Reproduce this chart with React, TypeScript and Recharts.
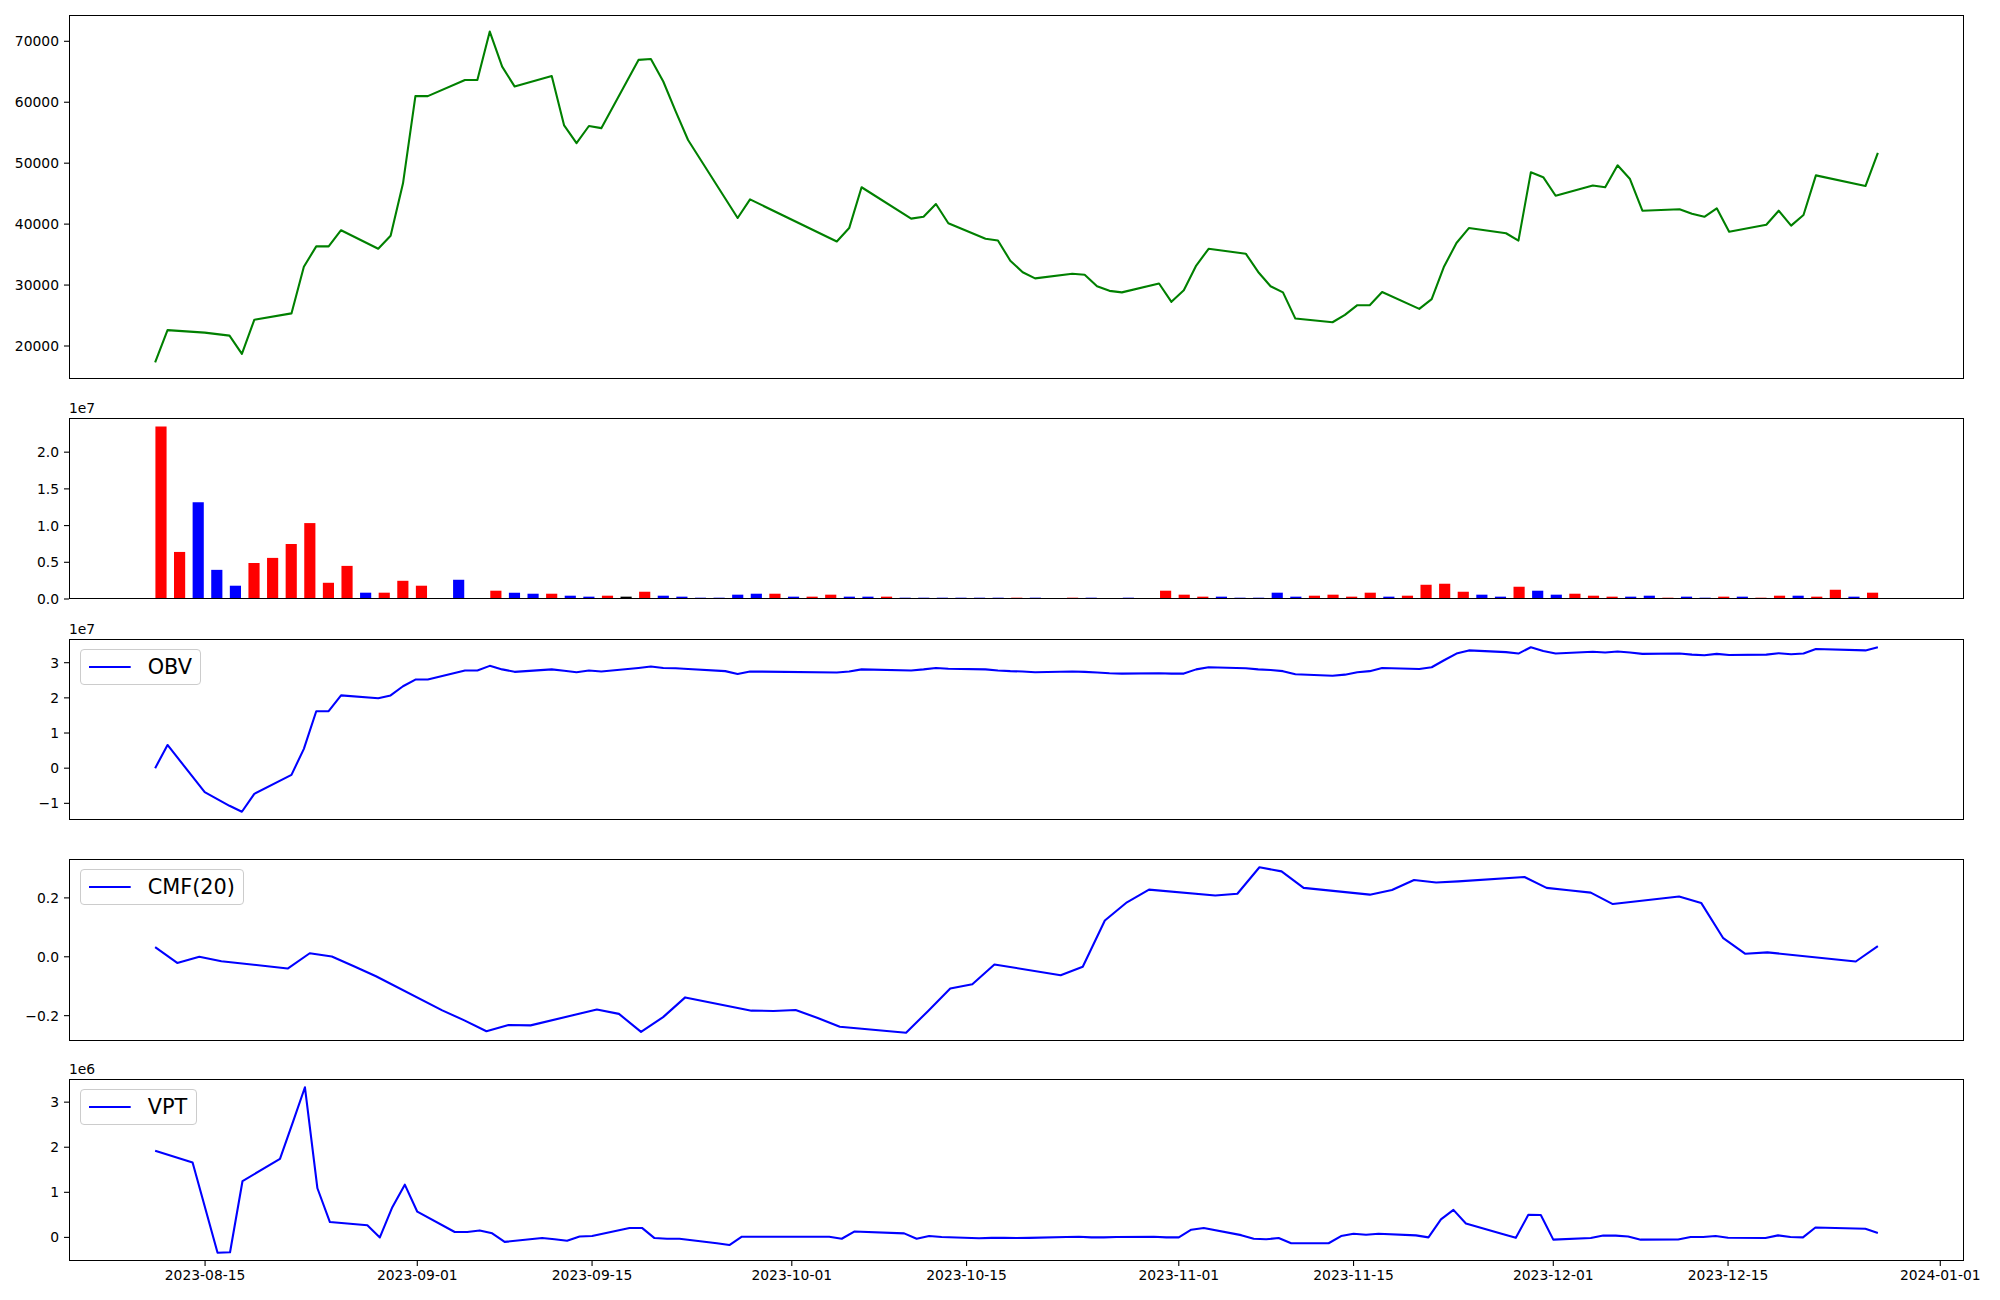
import React from 'react';
import { LineChart, Line, BarChart, Bar, Cell, XAxis, YAxis } from 'recharts';

// ---------------- data ----------------
const dates: string[] = [
  '2023-08-10', '2023-08-11', '2023-08-14', '2023-08-16', '2023-08-17', '2023-08-18', '2023-08-21', '2023-08-22', '2023-08-23', '2023-08-24',
  '2023-08-25', '2023-08-28', '2023-08-29', '2023-08-30', '2023-08-31', '2023-09-01', '2023-09-04', '2023-09-05', '2023-09-06', '2023-09-07',
  '2023-09-08', '2023-09-11', '2023-09-12', '2023-09-13', '2023-09-14', '2023-09-15', '2023-09-18', '2023-09-19', '2023-09-20', '2023-09-21',
  '2023-09-22', '2023-09-25', '2023-09-26', '2023-09-27', '2023-10-04', '2023-10-05', '2023-10-06', '2023-10-10', '2023-10-11', '2023-10-12',
  '2023-10-13', '2023-10-16', '2023-10-17', '2023-10-18', '2023-10-19', '2023-10-20', '2023-10-23', '2023-10-24', '2023-10-25', '2023-10-26',
  '2023-10-27', '2023-10-30', '2023-10-31', '2023-11-01', '2023-11-02', '2023-11-03', '2023-11-06', '2023-11-07', '2023-11-08', '2023-11-09',
  '2023-11-10', '2023-11-13', '2023-11-14', '2023-11-15', '2023-11-16', '2023-11-17', '2023-11-20', '2023-11-21', '2023-11-22', '2023-11-23',
  '2023-11-24', '2023-11-27', '2023-11-28', '2023-11-29', '2023-11-30', '2023-12-01', '2023-12-04', '2023-12-05', '2023-12-06', '2023-12-07',
  '2023-12-08', '2023-12-11', '2023-12-12', '2023-12-13', '2023-12-14', '2023-12-15', '2023-12-18', '2023-12-19', '2023-12-20', '2023-12-21',
  '2023-12-22', '2023-12-26', '2023-12-27',
];

const price: number[] = [
  17300, 22600, 22200, 21700, 18700, 24300, 25350, 33000, 36350, 36350,
  39000, 35950, 38100, 46700, 61000, 61000, 63650, 63650, 71600, 65850,
  62600, 64300, 56200, 53300, 56100, 55750, 66950, 67100, 63400, 58500,
  53800, 44200, 41000, 44050, 37150, 39350, 46050, 40900, 41200, 43300,
  40150, 37600, 37300, 34000, 32100, 31100, 31850, 31700, 29800, 29050,
  28800, 30250, 27250, 29150, 33200, 35950, 35150, 32150, 29800, 28800,
  24500, 23900, 25100, 26700, 26700, 28850, 26100, 27700, 33050, 36900,
  39350, 38500, 37300, 48500, 47700, 44650, 46350, 46050, 49650, 47400,
  42200, 42450, 41700, 41200, 42600, 38750, 39900, 42200, 39750, 41500,
  48000, 46250, 51700,
];

const volume: number[] = [
  23.48e6, 6.41e6, 13.18e6, 3.97e6, 1.81e6, 4.92e6, 5.6e6, 7.49e6, 10.34e6, 2.21e6,
  4.51e6, 0.86e6, 0.86e6, 2.48e6, 1.81e6, 0, 2.62e6, 0, 1.13e6, 0.86e6,
  0.72e6, 0.72e6, 0.45e6, 0.32e6, 0.45e6, 0.32e6, 0.99e6, 0.45e6, 0.32e6, 0.18e6,
  0.18e6, 0.59e6, 0.72e6, 0.72e6, 0.32e6, 0.32e6, 0.59e6, 0.32e6, 0.32e6, 0.32e6,
  0.18e6, 0.18e6, 0.18e6, 0.18e6, 0.18e6, 0.18e6, 0.18e6, 0.18e6, 0.05e6, 0.18e6,
  0.18e6, 0.05e6, 0.18e6, 0.05e6, 1.13e6, 0.59e6, 0.32e6, 0.32e6, 0.18e6, 0.18e6,
  0.86e6, 0.32e6, 0.45e6, 0.59e6, 0.32e6, 0.86e6, 0.32e6, 0.45e6, 1.94e6, 2.08e6,
  0.99e6, 0.59e6, 0.32e6, 1.67e6, 1.13e6, 0.59e6, 0.72e6, 0.45e6, 0.32e6, 0.32e6,
  0.45e6, 0.18e6, 0.32e6, 0.18e6, 0.32e6, 0.32e6, 0.18e6, 0.45e6, 0.45e6, 0.32e6,
  1.26e6, 0.32e6, 0.86e6,
];

// r = up day, b = down day, k = unchanged
const volumeDir: string[] = (
  'rrbbbrrrrr' + 'rbrrrkbkrb' + 'brbbrkrbbb' + 'bbbrbrrbbr' + 'bbbbbbrbbr' +
  'bbbbrrrbbb' + 'bbrrrrbrrr' + 'rbbrbbrrrb' + 'brbbrbrrbr' + 'rbr'
).split('');

const obv: number[] = [
  0, 0.66e7, -0.68e7, -1.07e7, -1.24e7, -0.73e7, -0.19e7, 0.55e7, 1.62e7, 1.62e7,
  2.07e7, 1.99e7, 2.07e7, 2.33e7, 2.52e7, 2.52e7, 2.78e7, 2.78e7, 2.91e7, 2.81e7,
  2.74e7, 2.81e7, 2.77e7, 2.73e7, 2.78e7, 2.75e7, 2.85e7, 2.89e7, 2.85e7, 2.84e7,
  2.82e7, 2.76e7, 2.68e7, 2.75e7, 2.72e7, 2.75e7, 2.81e7, 2.78e7, 2.81e7, 2.85e7,
  2.83e7, 2.81e7, 2.78e7, 2.76e7, 2.75e7, 2.73e7, 2.75e7, 2.74e7, 2.72e7, 2.70e7,
  2.69e7, 2.70e7, 2.69e7, 2.69e7, 2.81e7, 2.87e7, 2.84e7, 2.81e7, 2.79e7, 2.76e7,
  2.67e7, 2.63e7, 2.66e7, 2.73e7, 2.76e7, 2.85e7, 2.82e7, 2.87e7, 3.07e7, 3.26e7,
  3.35e7, 3.30e7, 3.26e7, 3.44e7, 3.33e7, 3.26e7, 3.31e7, 3.29e7, 3.32e7, 3.29e7,
  3.25e7, 3.26e7, 3.23e7, 3.21e7, 3.25e7, 3.22e7, 3.23e7, 3.27e7, 3.24e7, 3.26e7,
  3.39e7, 3.35e7, 3.44e7,
];

// CMF(20): defined for the last 56 trading days (from 2023-10-10)
const cmf20: number[] = [
  0.033, -0.021, 0.0, -0.015, -0.04, 0.012, 0.001, -0.032, -0.066, -0.182,
  -0.216, -0.253, -0.232, -0.233, -0.179, -0.194, -0.255, -0.205, -0.138, -0.183,
  -0.184, -0.181, -0.208, -0.238, -0.258, -0.184, -0.108, -0.093, -0.026, -0.063,
  -0.034, 0.123, 0.185, 0.228, 0.208, 0.214, 0.304, 0.29, 0.234, 0.211,
  0.227, 0.261, 0.252, 0.256, 0.271, 0.234, 0.226, 0.218, 0.179, 0.205,
  0.183, 0.063, 0.01, 0.015, -0.016, 0.036,
];

// VPT: defined from the second trading day
const vpt: number[] = [
  1.92e6, 1.66e6, -0.34e6, -0.33e6, 1.25e6, 1.74e6, 2.53e6, 3.33e6, 1.09e6, 0.34e6,
  0.27e6, 0.0, 0.67e6, 1.17e6, 0.57e6, 0.12e6, 0.12e6, 0.155e6, 0.09e6, -0.1e6,
  -0.015e6, -0.04e6, -0.075e6, 0.02e6, 0.03e6, 0.21e6, 0.21e6, -0.015e6, -0.03e6, -0.03e6,
  -0.13e6, -0.17e6, 0.015e6, 0.015e6, -0.03e6, 0.13e6, 0.09e6, -0.03e6, 0.03e6, 0.007e6,
  -0.02e6, -0.01e6, -0.01e6, -0.015e6, -0.01e6, 0.007e6, 0.015e6, 0.0, 0.0, 0.007e6,
  0.015e6, 0.0, 0.0, 0.17e6, 0.21e6, 0.05e6, -0.03e6, -0.04e6, -0.015e6, -0.13e6,
  -0.13e6, 0.03e6, 0.08e6, 0.06e6, 0.08e6, 0.045e6, 0.0, 0.4e6, 0.61e6, 0.31e6,
  0.07e6, -0.01e6, 0.5e6, 0.495e6, -0.05e6, -0.015e6, 0.04e6, 0.04e6, 0.02e6, -0.05e6,
  -0.045e6, 0.007e6, 0.007e6, 0.03e6, -0.007e6, -0.015e6, 0.045e6, 0.007e6, 0.0, 0.22e6,
  0.19e6, 0.1e6,
];

const priceTicks = [20000, 30000, 40000, 50000, 60000, 70000];
const volumeTicks = [0, 0.5e7, 1.0e7, 1.5e7, 2.0e7];
const obvTicks = [-1e7, 0, 1e7, 2e7, 3e7];
const cmfTicks = [-0.2, 0, 0.2];
const vptTicks = [0, 1e6, 2e6, 3e6];
const dateTicks = [
  '2023-08-15', '2023-09-01', '2023-09-15', '2023-10-01', '2023-10-15',
  '2023-11-01', '2023-11-15', '2023-12-01', '2023-12-15', '2024-01-01',
];

// ---------------- helpers ----------------
const DAY = 86400000;
const toDay = (s: string) => {
  const [y, m, d] = s.split('-').map(Number);
  return Date.UTC(y, m - 1, d) / DAY;
};
const fromDay = (n: number) => new Date(Math.round(n) * DAY).toISOString().slice(0, 10);
const padRange = (lo: number, hi: number, f = 0.05): [number, number] => {
  const r = hi - lo;
  return [lo - f * r, hi + f * r];
};
const minus = (s: string) => s.replace('-', '\u2212');

const PLOT_L = 69;
const PLOT_R = 1964;
const PLOT_W = PLOT_R - PLOT_L;
const YAXIS_W = 60;
const FONT = "'DejaVu Sans', sans-serif";
const TICK_FS = 13.89;
const LEGEND_FS = 20.83;
const LINE_W = 2.08;
const PAD_T = 10;
const BAR_WIDTH_UNITS = 0.6;
const DIR_COLORS: Record<string, string> = { r: '#ff0000', b: '#0000ff', k: '#000000' };

const tickStyle = { fill: '#000', fontSize: TICK_FS, fontFamily: FONT };
const tickLine = { stroke: '#000', strokeWidth: 1.1 };

const Frame = ({ top, h }: { top: number; h: number }) => (
  <div
    style={{
      position: 'absolute', left: PLOT_L, top, width: PLOT_W, height: h,
      border: '1px solid #000', boxSizing: 'border-box', pointerEvents: 'none',
    }}
  />
);

const OffsetText = ({ top, text }: { top: number; text: string }) => (
  <div
    style={{
      position: 'absolute', left: PLOT_L, top: top - 18, fontFamily: FONT,
      fontSize: TICK_FS, color: '#000', whiteSpace: 'nowrap',
    }}
  >
    {text}
  </div>
);

const LegendBox = ({ top, label, color }: { top: number; label: string; color: string }) => (
  <div
    style={{
      position: 'absolute', left: PLOT_L + 11, top: top + 10.4, height: 36,
      boxSizing: 'border-box', border: '1px solid #cccccc', borderRadius: 4,
      background: 'rgba(255,255,255,0.8)', display: 'flex', alignItems: 'center',
      padding: '0 8.3px', fontFamily: FONT, fontSize: LEGEND_FS, color: '#000',
    }}
  >
    <svg width={41.7} height={10} style={{ display: 'block' }}>
      <line x1={0} x2={41.7} y1={5} y2={5} stroke={color} strokeWidth={LINE_W} />
    </svg>
    <span style={{ marginLeft: 16.7, lineHeight: 1, whiteSpace: 'nowrap' }}>{label}</span>
  </div>
);

type Pt = { t: number; v: number };

interface LinePanelProps {
  top: number;
  h: number;
  data: Pt[];
  yTicks: number[];
  yFmt: (v: number) => string;
  color: string;
  legend?: string;
  offsetText?: string;
  showX?: boolean;
}

const LinePanel = ({ top, h, data, yTicks, yFmt, color, legend, offsetText, showX }: LinePanelProps) => {
  const ts = data.map((d) => d.t);
  const vs = data.map((d) => d.v);
  const xDomain = padRange(Math.min(...ts), Math.max(...ts));
  const yDomain = padRange(Math.min(...vs), Math.max(...vs));
  const xAxisH = showX ? 30 : 0;
  const padB = showX ? 9 : 10;
  const height = PAD_T + h + xAxisH + padB;
  return (
    <>
      <div style={{ position: 'absolute', left: 0, top: top - PAD_T }}>
        <LineChart
          width={2000}
          height={height}
          data={data}
          margin={{ top: PAD_T, right: 2000 - PLOT_R, bottom: padB, left: PLOT_L - YAXIS_W }}
        >
          <XAxis
            type="number"
            dataKey="t"
            domain={xDomain}
            allowDataOverflow
            hide={!showX}
            height={xAxisH || 30}
            ticks={dateTicks.map(toDay)}
            tickFormatter={fromDay}
            interval={0}
            tick={tickStyle}
            tickLine={tickLine}
            axisLine={false}
            tickSize={5}
            tickMargin={4}
          />
          <YAxis
            type="number"
            domain={yDomain}
            allowDataOverflow
            width={YAXIS_W}
            ticks={yTicks}
            tickFormatter={yFmt}
            interval={0}
            tick={tickStyle}
            tickLine={tickLine}
            axisLine={false}
            tickSize={5}
            tickMargin={5}
          />
          <Line
            type="linear"
            dataKey="v"
            name={legend}
            stroke={color}
            strokeWidth={LINE_W}
            strokeLinejoin="round"
            dot={false}
            activeDot={false}
            isAnimationActive={false}
          />
        </LineChart>
      </div>
      <Frame top={top} h={h} />
      {legend ? <LegendBox top={top} label={legend} color={color} /> : null}
      {offsetText ? <OffsetText top={top} text={offsetText} /> : null}
    </>
  );
};

const VolumePanel = ({ top, h }: { top: number; h: number }) => {
  const data = volume.map((v, i) => ({ i, v, dir: volumeDir[i] }));
  const xDomain = padRange(-BAR_WIDTH_UNITS / 2, volume.length - 1 + BAR_WIDTH_UNITS / 2);
  const yDomain: [number, number] = [0, Math.max(...volume) * 1.05];
  const barPx = (BAR_WIDTH_UNITS * PLOT_W) / (xDomain[1] - xDomain[0]);
  return (
    <>
      <div style={{ position: 'absolute', left: 0, top: top - PAD_T }}>
        <BarChart
          width={2000}
          height={PAD_T + h + 10}
          data={data}
          margin={{ top: PAD_T, right: 2000 - PLOT_R, bottom: 10, left: PLOT_L - YAXIS_W }}
        >
          <XAxis type="number" dataKey="i" domain={xDomain} allowDataOverflow hide />
          <YAxis
            type="number"
            domain={yDomain}
            allowDataOverflow
            width={YAXIS_W}
            ticks={volumeTicks}
            tickFormatter={(v: number) => (v / 1e7).toFixed(1)}
            interval={0}
            tick={tickStyle}
            tickLine={tickLine}
            axisLine={false}
            tickSize={5}
            tickMargin={5}
          />
          <Bar dataKey="v" barSize={barPx} isAnimationActive={false}>
            {data.map((d, i) => (
              <Cell key={i} fill={DIR_COLORS[d.dir]} />
            ))}
          </Bar>
        </BarChart>
      </div>
      <Frame top={top} h={h} />
      <OffsetText top={top} text="1e7" />
    </>
  );
};

export default function App() {
  const dayNums = dates.map(toDay);
  const priceData = price.map((v, i) => ({ t: dayNums[i], v }));
  const obvData = obv.map((v, i) => ({ t: dayNums[i], v }));
  const cmfStart = dates.length - cmf20.length;
  const cmfData = cmf20.map((v, i) => ({ t: dayNums[cmfStart + i], v }));
  const vptStart = dates.length - vpt.length;
  const vptData = vpt.map((v, i) => ({ t: dayNums[vptStart + i], v }));

  return (
    <div style={{ position: 'absolute', left: 0, top: 0, width: 2000, height: 1300, background: '#fff', overflow: 'hidden' }}>
      <LinePanel top={15} h={364} data={priceData} yTicks={priceTicks} yFmt={(v) => String(v)} color="#008000" />
      <VolumePanel top={418} h={181} />
      <LinePanel
        top={639}
        h={181}
        data={obvData}
        yTicks={obvTicks}
        yFmt={(v) => minus(String(Math.round(v / 1e7)))}
        color="#0000ff"
        legend="OBV"
        offsetText="1e7"
      />
      <LinePanel
        top={859}
        h={182}
        data={cmfData}
        yTicks={cmfTicks}
        yFmt={(v) => minus(v.toFixed(1))}
        color="#0000ff"
        legend="CMF(20)"
      />
      <LinePanel
        top={1079}
        h={182}
        data={vptData}
        yTicks={vptTicks}
        yFmt={(v) => String(Math.round(v / 1e6))}
        color="#0000ff"
        legend="VPT"
        offsetText="1e6"
        showX
      />
    </div>
  );
}
